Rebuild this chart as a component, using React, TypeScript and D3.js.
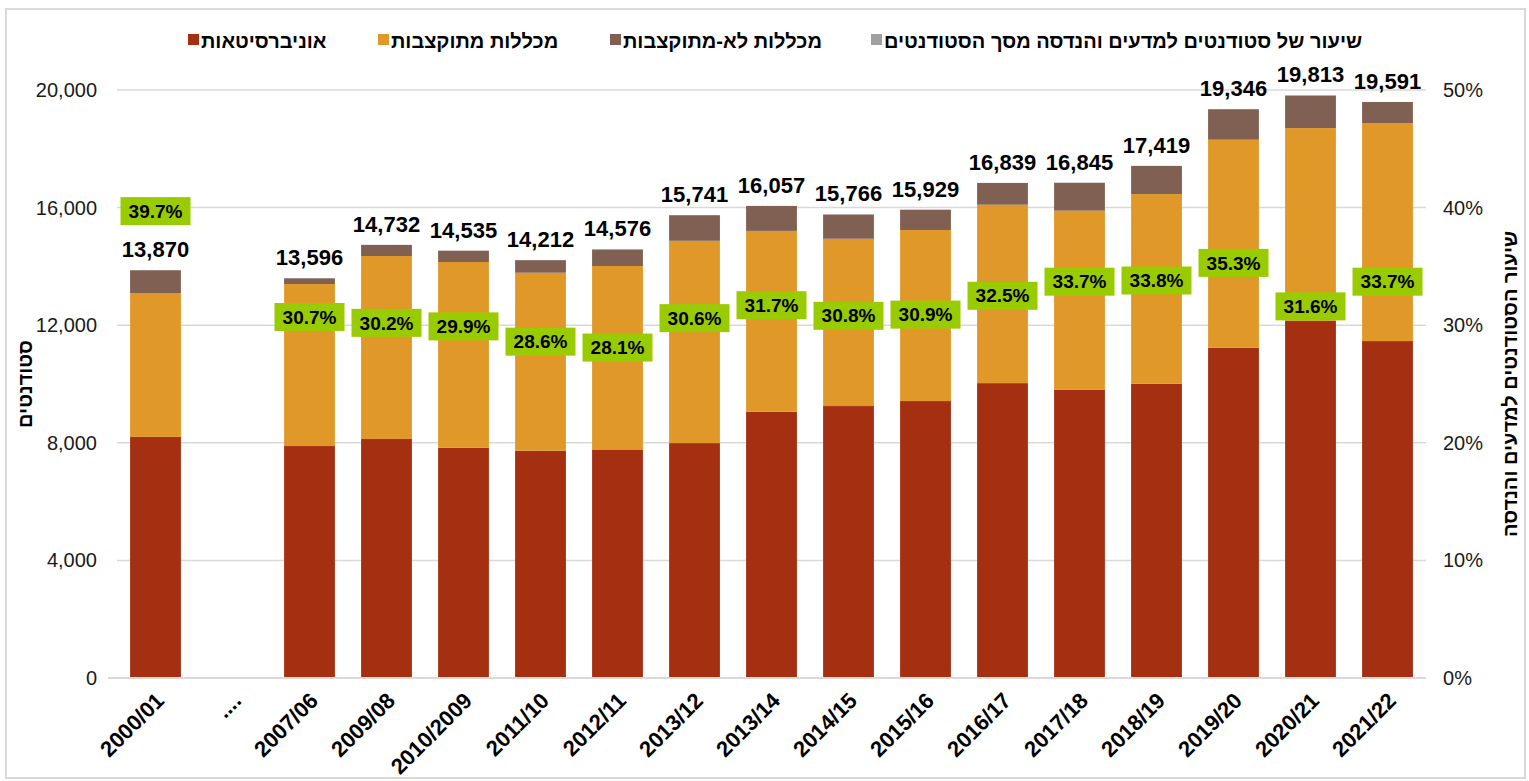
import React from 'react'
import * as d3 from 'd3'

// categories on the x axis ("...." is an empty gap)
const categories = ['2000/01', '....', '2007/06', '2009/08', '2010/2009', '2011/10', '2012/11', '2013/12', '2013/14', '2014/15', '2015/16', '2016/17', '2017/18', '2018/19', '2019/20', '2020/21', '2021/22']

// students per institution type
const universities = [8200, null, 7890, 8130, 7830, 7730, 7755, 7990, 9060, 9250, 9420, 10030, 9810, 10010, 11235, 12150, 11460]
const fundedColleges = [4895, null, 5510, 6224, 6320, 6055, 6259, 6881, 6147, 5691, 5819, 6069, 6085, 6449, 7075, 6555, 7405]
const unfundedColleges = [775, null, 196, 378, 385, 427, 562, 870, 850, 825, 690, 740, 950, 960, 1036, 1108, 726]
const totals = [13870, null, 13596, 14732, 14535, 14212, 14576, 15741, 16057, 15766, 15929, 16839, 16845, 17419, 19346, 19813, 19591]

// share of science & engineering students (%)
const sciShare = [39.7, null, 30.7, 30.2, 29.9, 28.6, 28.1, 30.6, 31.7, 30.8, 30.9, 32.5, 33.7, 33.8, 35.3, 31.6, 33.7]

const leftTicks = [0, 4000, 8000, 12000, 16000, 20000]
const rightTicks = [0, 10, 20, 30, 40, 50]

const seriesNames = ['אוניברסיטאות', 'מכללות מתוקצבות', 'מכללות לא-מתוקצבות', 'שיעור של סטודנטים למדעים והנדסה מסך הסטודנטים']
const seriesColors = ['#a53011', '#e09928', '#7f6053', '#a0a0a0']
const keys = ['uni', 'funded', 'unfunded']

const W = 1529
const H = 781
const font = 'Liberation Sans, Arial, DejaVu Sans, sans-serif'
const plot = { left: 117, right: 1426, top: 90, bottom: 678 }

export default function App() {
  const x = d3.scaleBand().domain(categories).range([plot.left, plot.right]).paddingInner(0.34).paddingOuter(0.17)
  const y = d3.scaleLinear().domain([0, 20000]).range([plot.bottom, plot.top])
  const yPct = d3.scaleLinear().domain([0, 50]).range([plot.bottom, plot.top])

  const rows = categories.map((c, i) => ({
    cat: c,
    uni: universities[i] ?? 0,
    funded: fundedColleges[i] ?? 0,
    unfunded: unfundedColleges[i] ?? 0,
    total: totals[i],
    pct: sciShare[i],
  }))
  const stacked = d3.stack<any>().keys(keys)(rows)
  const fmt = d3.format(',')
  const bw = x.bandwidth()

  // legend layout (marker left of text, like the original)
  const legendX = [188, 378, 610, 871]

  return (
    <svg width={W} height={H} style={{ position: 'absolute', left: 0, top: 0, background: '#fff' }} fontFamily={font}>
      <rect x={6} y={9} width={W - 10} height={H - 12} fill="none" stroke="#d9d9d9" strokeWidth={2} />

      {/* legend */}
      {seriesNames.map((name, i) => (
        <g key={name}>
          <rect x={legendX[i]} y={34} width={11} height={11} fill={seriesColors[i]} />
          <text x={legendX[i] + 13} y={41} dy="0.35em" fontSize={20} fontWeight="bold" fill="#000">{name}</text>
        </g>
      ))}

      {/* gridlines */}
      {leftTicks.slice(1).map(t => (
        <line key={t} x1={plot.left} x2={plot.right} y1={y(t)} y2={y(t)} stroke="#d9d9d9" strokeWidth={1.5} />
      ))}

      {/* left axis ticks */}
      {leftTicks.map(t => (
        <text key={t} x={97} y={y(t)} dy="0.35em" textAnchor="end" fontSize={20} fill="#1a1a1a">{fmt(t)}</text>
      ))}
      {/* right axis ticks */}
      {rightTicks.map(t => (
        <text key={t} x={1443} y={yPct(t)} dy="0.35em" textAnchor="start" fontSize={20} fill="#1a1a1a">{t}%</text>
      ))}

      {/* stacked bars */}
      {stacked.map((layer, li) => (
        <g key={layer.key} fill={seriesColors[li]}>
          {layer.map((d, i) => rows[i].total == null ? null : (
            <rect key={i} x={x(rows[i].cat)} y={y(d[1])} width={bw} height={y(d[0]) - y(d[1])} />
          ))}
        </g>
      ))}

      {/* zero axis */}
      <line x1={plot.left - 9} x2={plot.right} y1={plot.bottom} y2={plot.bottom} stroke="#d9d9d9" strokeWidth={2} />

      {/* totals above bars */}
      {rows.map(r => r.total == null ? null : (
        <text key={r.cat} x={x(r.cat)! + bw / 2} y={y(r.total) - 13} textAnchor="middle" fontSize={22} fontWeight="bold" fill="#000">{fmt(r.total)}</text>
      ))}

      {/* share labels */}
      {rows.map(r => r.pct == null ? null : (
        <g key={r.cat} transform={`translate(${x(r.cat)! + bw / 2},${yPct(r.pct)})`}>
          <rect x={-35} y={-14} width={70} height={28} fill="#99cc00" />
          <text x={0} y={0} dy="0.35em" textAnchor="middle" fontSize={19} fontWeight="bold" fill="#000">{r.pct.toFixed(1)}%</text>
        </g>
      ))}

      {/* x labels */}
      {categories.map(c => (
        <text key={c} transform={`translate(${x(c)! + bw / 2 + 10},${plot.bottom + 24}) rotate(-45)`} textAnchor="end" fontSize={22} fontWeight="bold" fill="#000">{c}</text>
      ))}

      {/* axis titles */}
      <text transform={`translate(25,${(plot.top + plot.bottom) / 2}) rotate(-90)`} dy="0.35em" textAnchor="middle" fontSize={20} fontWeight="bold">סטודנטים</text>
      <text transform={`translate(1510,${(plot.top + plot.bottom) / 2}) rotate(-90)`} dy="0.35em" textAnchor="middle" fontSize={20} fontWeight="bold">שיעור הסטודנטים למדעים והנדסה</text>
    </svg>
  )
}
